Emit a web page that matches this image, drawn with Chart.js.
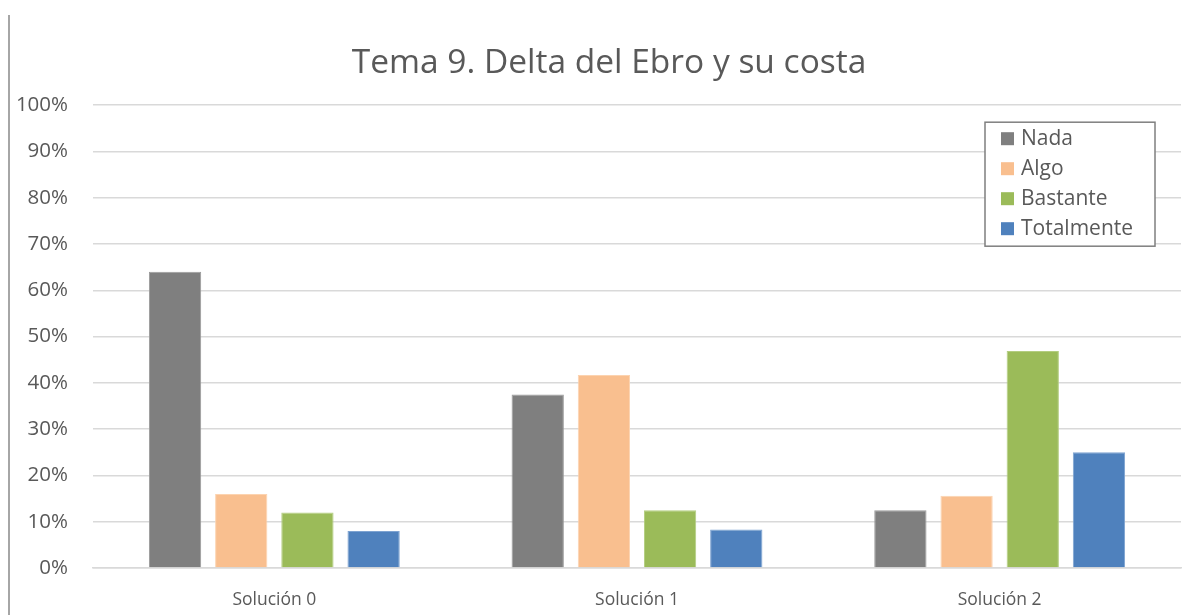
<!DOCTYPE html>
<html>
<head>
<meta charset="utf-8">
<script src="https://cdn.jsdelivr.net/npm/chart.js@4.4.1/dist/chart.umd.min.js"></script>
<style>
  html, body { margin: 0; padding: 0; background: #ffffff; }
  #wrap { position: relative; width: 1203px; height: 615px; }
  #frame { position: absolute; left: 8px; top: 15px; width: 2px; height: 600px; background: #a6a6a6; }
  canvas { position: absolute; left: 0; top: 0; }
</style>
</head>
<body>
<div id="wrap">
  <canvas id="c" width="1203" height="615"></canvas>
  <div id="frame"></div>
</div>
<script>
const titleText = 'Tema 9. Delta del Ebro y su costa';
const categories = ['Solución 0', 'Solución 1', 'Solución 2'];
const seriesNames = ['Nada', 'Algo', 'Bastante', 'Totalmente'];
const nada = [64, 37.5, 12.5];
const algo = [16, 41.7, 15.6];
const bastante = [12, 12.5, 46.9];
const totalmente = [8, 8.3, 25];
const yTickValues = [0, 10, 20, 30, 40, 50, 60, 70, 80, 90, 100];

const colors = ['#7f7f7f', '#f9bf8f', '#9bbb59', '#4f81bd'];
const borders = ['#9a9a9a', '#fcd3b0', '#b3cd80', '#7ea3d1'];
const FONT = "'Open Sans', 'Noto Sans', sans-serif";
const TXT = '#595959';

const seriesValues = [nada, algo, bastante, totalmente];

// Excel centres the title over the whole chart object, which extends past the right edge
const titleShift = {
  id: 'titleShift',
  afterLayout(chart) {
    if (chart.titleBlock) { chart.titleBlock.left += 27; }
  }
};

const legendPlugin = {
  id: 'boxLegend',
  afterDraw(chart) {
    const ctx = chart.ctx;
    const ca = chart.chartArea;
    const w = 170, h = 124;
    const x = ca.right - 26 - w;
    const y = ca.top + 17;
    ctx.save();
    ctx.fillStyle = '#ffffff';
    ctx.fillRect(x, y, w, h);
    ctx.strokeStyle = '#7f7f7f';
    ctx.lineWidth = 1.5;
    ctx.strokeRect(x, y, w, h);
    ctx.font = '21px ' + FONT;
    ctx.textBaseline = 'middle';
    chart.data.datasets.forEach((ds, i) => {
      const cy = y + 17 + i * 30;
      ctx.fillStyle = ds.backgroundColor;
      ctx.fillRect(x + 16, cy - 7, 13, 13);
      ctx.fillStyle = TXT;
      ctx.fillText(ds.label, x + 36, cy);
    });
    ctx.restore();
  }
};

new Chart(document.getElementById('c'), {
  type: 'bar',
  data: {
    labels: categories,
    datasets: seriesNames.map((name, i) => ({
      label: name,
      data: seriesValues[i],
      backgroundColor: colors[i],
      borderColor: borders[i],
      borderWidth: 1,
      categoryPercentage: 0.73,
      barPercentage: 0.79
    }))
  },
  options: {
    responsive: false,
    animation: false,
    layout: { padding: { left: 10, right: 22, top: 0, bottom: 0 } },
    plugins: {
      legend: { display: false },
      tooltip: { enabled: false },
      title: {
        display: true,
        text: titleText,
        color: TXT,
        font: { family: FONT, size: 33.5, weight: 'normal' },
        padding: { top: 43, bottom: 22 }
      }
    },
    scales: {
      y: {
        min: 0,
        max: 100,
        afterBuildTicks(scale) { scale.ticks = yTickValues.map(v => ({ value: v })); },
        afterFit(scale) { scale.width = 83; },
        ticks: {
          callback: v => v + '%',
          color: TXT,
          font: { family: FONT, size: 20.5 },
          padding: 25
        },
        grid: { color: '#d9d9d9', lineWidth: 1.5, drawTicks: false },
        border: { display: false }
      },
      x: {
        afterFit(scale) { scale.height = 47; },
        ticks: {
          color: TXT,
          font: { family: FONT, size: 17.5 },
          padding: 14
        },
        grid: { display: false },
        border: { color: '#d9d9d9', width: 1.5 }
      }
    }
  },
  plugins: [titleShift, legendPlugin]
});
</script>
</body>
</html>
